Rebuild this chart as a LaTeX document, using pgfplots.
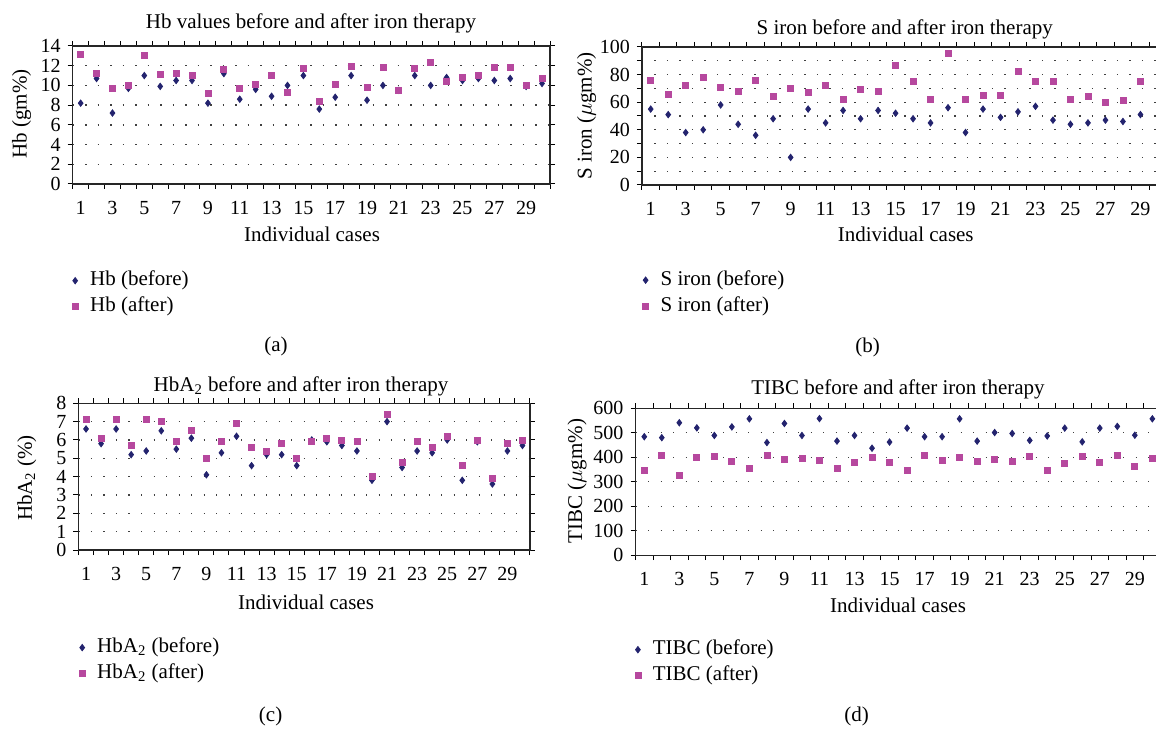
\documentclass[border=0pt]{standalone}
\usepackage{fontspec}
\setmainfont{Liberation Serif}
\usepackage{pgfplots}
\usepackage{pgfplotstable}
\pgfplotsset{compat=1.18}
\definecolor{cbefore}{HTML}{23236E}
\definecolor{cafter}{HTML}{B6489E}

% Hb (gm%)
\pgfplotstableread{
case before after
1 8.2 13.1
2 10.7 11.2
3 7.2 9.7
4 9.7 10.0
5 11.0 13.0
6 9.9 11.1
7 10.5 11.2
8 10.5 11.0
9 8.2 9.2
10 11.2 11.6
11 8.6 9.7
12 9.6 10.1
13 8.9 11.0
14 10.0 9.3
15 11.0 11.7
16 7.6 8.4
17 8.8 10.1
18 11.0 11.9
19 8.5 9.8
20 10.0 11.8
21 9.5 9.5
22 11.0 11.7
23 10.0 12.3
24 10.8 10.4
25 10.5 10.8
26 10.7 11.0
27 10.5 11.8
28 10.7 11.8
29 9.9 10.0
30 10.2 10.7
}\dataHb

% S iron
\pgfplotstableread{
case before after
1 55 76
2 51 66
3 38 72
4 40 78
5 58 71
6 44 68
7 36 76
8 48 64
9 20 70
10 55 67
11 45 72
12 54 62
13 48 69
14 54 68
15 52 87
16 48 75
17 45 62
18 56 95
19 38 62
20 55 65
21 49 65
22 53 82
23 57 75
24 47 75
25 44 62
26 45 64
27 47 60
28 46 61
29 51 75
}\dataFe

% HbA2 (%)
\pgfplotstableread{
case before after
1 6.6 7.1
2 5.8 6.1
3 6.6 7.1
4 5.2 5.7
5 5.4 7.1
6 6.5 7.0
7 5.5 5.9
8 6.1 6.5
9 4.1 5.0
10 5.3 5.9
11 6.2 6.9
12 4.6 5.6
13 5.2 5.4
14 5.2 5.8
15 4.6 5.0
16 6.0 5.9
17 5.9 6.1
18 5.7 6.0
19 5.4 5.9
20 3.8 4.0
21 7.0 7.4
22 4.5 4.8
23 5.4 5.9
24 5.3 5.6
25 6.0 6.2
26 3.8 4.6
27 5.9 6.0
28 3.6 3.9
29 5.4 5.8
30 5.7 6.0
}\dataAtwo

% TIBC
\pgfplotstableread{
case before after
1 484 348
2 480 407
3 541 325
4 520 400
5 489 403
6 524 383
7 557 355
8 460 407
9 538 392
10 489 395
11 558 386
12 466 355
13 489 380
14 437 400
15 462 380
16 519 346
17 484 407
18 484 387
19 557 400
20 466 383
21 501 392
22 497 383
23 469 403
24 487 346
25 519 376
26 463 403
27 519 380
28 526 407
29 490 363
30 557 395
}\dataTibc

\pgfplotsset{
  panel/.style={
    scale only axis, anchor=south west,
    xmin=0.5, xmax=30.5,
    axis line style={black!85, line width=0.6pt},
    tick align=outside,
    major tick length=2.5pt, minor tick length=2.5pt,
    tick style={black, line width=0.5pt},
    xtick={1,3,...,29},
    minor xtick={0.5,1.5,...,30.5},
    major x tick style={draw=none},
    xticklabel style={yshift=-2.5pt},
    ymajorgrids,
    grid style={black!75, line width=0.65pt, dash pattern=on 0.65pt off 5.6pt},
    tick label style={font=\fontsize{10}{12}\selectfont},
    /pgf/number format/assume math mode=true,
    legend cell align=left,
    legend style={draw=none, fill=none, inner sep=0pt, column sep=6pt, row sep=4pt,
      nodes={inner sep=0pt, text height=7pt, text depth=2pt}, anchor=west,
      font=\fontsize{10.5}{12}\selectfont},
    legend image code/.code={\draw[##1] plot coordinates {(0pt,0pt)};},
  },
  before/.style={only marks, mark=diamond*, mark size=1.6pt, color=cbefore},
  after/.style={only marks, mark=square*, mark size=1.5pt, color=cafter},
}

\begin{document}
\begin{tikzpicture}[font=\fontsize{10.5}{12}\selectfont]
\path[use as bounding box] (0,0) rectangle (578pt,364pt);
\clip (0,0) rectangle (578pt,364pt);

% (a)
\begin{axis}[panel, at={(36.35pt,272pt)}, width=238.65pt, height=69pt,
  ymin=0, ymax=14, ytick={0,2,...,14},
  legend style={at={(-0.0019,-0.795)}}]
\addplot[before] table[x=case, y=before] {\dataHb};
\addplot[after] table[x=case, y=after] {\dataHb};
\legend{Hb (before), Hb (after)}
\end{axis}
\node[anchor=base] at (155.5pt,349.85pt) {Hb values before and after iron therapy};
\node[rotate=90] at (10.85pt,307pt) {Hb (gm\%)};
\node[anchor=base] at (156pt,243.15pt) {Individual cases};
\node at (138pt,190.65pt) {(a)};

% (b)
\begin{axis}[panel, at={(320.98pt,271.5pt)}, width=262.35pt, height=69pt,
  ymin=0, ymax=100, ytick={0,20,...,100},
  minor ytick={10,30,...,90}, yminorgrids,
  legend style={at={(0.0005,-0.784)}}]
\addplot[before] table[x=case, y=before] {\dataFe};
\addplot[after] table[x=case, y=after] {\dataFe};
\legend{S iron (before), S iron (after)}
\end{axis}
\node[anchor=base] at (452.35pt,346.5pt) {S iron before and after iron therapy};
\node[rotate=90] at (293.35pt,306pt) {S iron ($\mu$gm\%)};
\node[anchor=base] at (452.85pt,243.25pt) {Individual cases};
\node at (433.75pt,190.5pt) {(b)};

% (c)
\begin{axis}[panel, at={(39.25pt,89pt)}, width=225.75pt, height=73.35pt,
  ymin=0, ymax=8, ytick={0,1,...,8},
  legend style={at={(0.0007,-0.754)}}]
\addplot[before] table[x=case, y=before] {\dataAtwo};
\addplot[after] table[x=case, y=after] {\dataAtwo};
\legend{HbA\textsubscript{2} (before), HbA\textsubscript{2} (after)}
\end{axis}
\node[anchor=base] at (150.5pt,168.15pt) {HbA\textsubscript{2} before and after iron therapy};
\node[rotate=90] at (13.35pt,125pt) {HbA\textsubscript{2} (\%)};
\node[anchor=base] at (153pt,59.35pt) {Individual cases};
\node at (135.3pt,6pt) {(c)};

% (d)
\begin{axis}[panel, at={(317.75pt,86.4pt)}, width=262.8pt, height=73.45pt,
  ymin=0, ymax=600, ytick={0,100,...,600},
  legend style={at={(-0.0019,-0.732)}}]
\addplot[before] table[x=case, y=before] {\dataTibc};
\addplot[after] table[x=case, y=after] {\dataTibc};
\legend{TIBC (before), TIBC (after)}
\end{axis}
\node[anchor=base] at (449pt,166.5pt) {TIBC before and after iron therapy};
\node[rotate=90] at (288.5pt,123.5pt) {TIBC ($\mu$gm\%)};
\node[anchor=base] at (449pt,57.75pt) {Individual cases};
\node at (428.25pt,6pt) {(d)};
\end{tikzpicture}
\end{document}
